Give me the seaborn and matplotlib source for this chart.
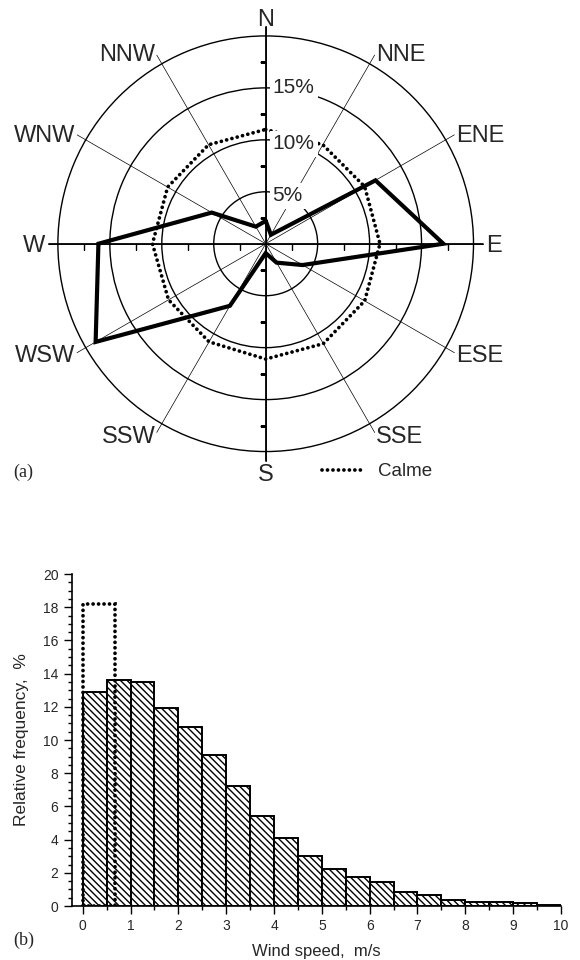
import numpy as np
import pandas as pd
import matplotlib
matplotlib.use("Agg")
import matplotlib.pyplot as plt
from matplotlib.ticker import MultipleLocator
import seaborn as sns

# (a) wind rose, frequency by direction (%)
directions = ["N", "NNE", "ENE", "E", "ESE", "SSE", "S", "SSW", "WSW", "W", "WNW", "NNW"]
angles_deg = [0, 30, 60, 90, 120, 150, 180, 210, 240, 270, 300, 330]
freq_all = [2.2, 1.0, 12.2, 17.1, 4.1, 2.1, 0.9, 6.9, 18.9, 16.1, 6.0, 1.9]
freq_calme = [11.0, 11.0, 11.0, 11.0, 11.0, 11.1, 11.1, 10.9, 10.8, 10.9, 10.9, 11.0]
ring_values = [5, 10, 15, 20]
ring_labels = ["5%", "10%", "15%"]

# (b) wind speed histogram, 0.5 m/s classes
speed_edges = [0, 0.5, 1, 1.5, 2, 2.5, 3, 3.5, 4, 4.5, 5,
               5.5, 6, 6.5, 7, 7.5, 8, 8.5, 9, 9.5, 10]
speed_freq = [12.9, 13.6, 13.5, 11.9, 10.8, 9.1, 7.2, 5.4, 4.1, 3.0,
              2.2, 1.75, 1.45, 0.86, 0.64, 0.34, 0.26, 0.26, 0.16, 0.05]
calm_edges = [0, 0.68]
calm_freq = [18.2]

sns.set_style("white")
plt.rcParams["font.family"] = ["Liberation Sans", "DejaVu Sans"]
plt.rcParams["hatch.linewidth"] = 1.0

fig = plt.figure(figsize=(5.8, 9.6), dpi=100)

# ---------- wind rose ----------
ax1 = fig.add_axes([0.0819, 0.5188, 0.7524, 0.4546], projection="polar")
ax1.set_theta_zero_location("N")
ax1.set_theta_direction(-1)

rose = pd.DataFrame({
    "theta": np.radians(angles_deg + [360]),
    "all": freq_all + freq_all[:1],
    "calme": freq_calme + freq_calme[:1],
})

dotted = (0, (0.01, 1.45))
sns.lineplot(data=rose, x="theta", y="calme", ax=ax1, sort=False, color="black",
             linewidth=2.7, linestyle=dotted, dash_capstyle="round", zorder=4)
sns.lineplot(data=rose, x="theta", y="all", ax=ax1, sort=False, color="black",
             linewidth=3.0, solid_joinstyle="miter", zorder=5)

ax1.set_ylim(0, 21)
ax1.set_yticks(ring_values)
ax1.set_yticklabels([])
ax1.set_xticks(np.radians(angles_deg))
ax1.set_xticklabels([])
ax1.yaxis.grid(True, color="black", linewidth=1.0)
ax1.xaxis.grid(True, color="black", linewidth=0.5)
ax1.spines["polar"].set_visible(False)
ax1.set_xlabel("")
ax1.set_ylabel("")

# main axes N-E-S-W with small ticks
tick_r = [2.5, 7.5, 12.5, 17.5]
for th in [0, 90, 180, 270]:
    t = np.radians(th)
    ax1.plot([t, t], [0, 20.9], color="black", linewidth=1.3, zorder=3)
    mk = 0 if th in (0, 180) else 3
    ax1.plot([t] * len(tick_r), tick_r, linestyle="none", marker=mk,
             markersize=4, markeredgewidth=1, color="black", zorder=3)

# direction labels
for name, th in zip(directions, angles_deg):
    t = np.radians(th)
    if th == 0:
        ax1.text(t, 21.0, name, ha="center", va="baseline", fontsize=17)
    elif th == 180:
        ax1.text(t, 21.2, name, ha="center", va="top", fontsize=17)
    elif th < 180:
        ax1.text(t, 21.2, name, ha="left", va="center_baseline", fontsize=17)
    else:
        ax1.text(t, 21.2, name, ha="right", va="center_baseline", fontsize=17)

# ring labels
for r, lab in zip([4.6, 9.6, 15.0], ring_labels):
    ax1.annotate(lab, xy=(0, r), xytext=(5, 0), textcoords="offset points",
                 ha="left", va="center", fontsize=15, zorder=10,
                 bbox=dict(boxstyle="square,pad=0.15", fc="white", ec="none"))

calme_handle = plt.Line2D([], [], color="black", linewidth=2.7, linestyle=dotted,
                          dash_capstyle="round")
fig.legend([calme_handle], ["Calme"], loc="center left",
           bbox_to_anchor=(321.7 / 580, 1 - 471.7 / 960), frameon=False,
           fontsize=13.5, handlelength=2.1, handletextpad=0.9, borderpad=0,
           borderaxespad=0)
fig.text(13 / 580, 1 - 472 / 960, "(a)", family=["Liberation Serif"],
         fontsize=13, va="center")

# ---------- histogram ----------
ax2 = fig.add_axes([0.1236, 0.05625, 0.8436, 0.3458])
centers = [(a + b) / 2 for a, b in zip(speed_edges[:-1], speed_edges[1:])]
sns.histplot(x=centers, weights=speed_freq, bins=speed_edges, ax=ax2,
             color="white", edgecolor="black", linewidth=1.4, alpha=1,
             hatch="\\\\\\\\\\", zorder=2)
sns.histplot(x=[sum(calm_edges) / 2], weights=calm_freq, bins=calm_edges, ax=ax2,
             fill=False, color="black", linewidth=2.7, linestyle=dotted,
             capstyle="round", zorder=3)

ax2.set_xlim(-0.23, 10)
ax2.set_ylim(0, 20)
ax2.xaxis.set_major_locator(MultipleLocator(1))
ax2.xaxis.set_minor_locator(MultipleLocator(0.5))
ax2.yaxis.set_major_locator(MultipleLocator(2))
ax2.yaxis.set_minor_locator(MultipleLocator(0.5))
ax2.tick_params(which="both", direction="out", left=True, bottom=True,
                color="black", width=1, labelsize=10)
ax2.tick_params(which="major", length=6)
ax2.tick_params(which="minor", length=3)
sns.despine(ax=ax2)
for s in ["left", "bottom"]:
    ax2.spines[s].set_color("black")
    ax2.spines[s].set_linewidth(1.2)
ax2.set_xlabel("Wind speed,  m/s", fontsize=12, labelpad=8)
ax2.set_ylabel("Relative frequency,  %", fontsize=12.5, labelpad=10)

fig.text(13 / 580, 1 - 940 / 960, "(b)", family=["Liberation Serif"],
         fontsize=13, va="center")

fig.savefig("out.png", dpi=100)
